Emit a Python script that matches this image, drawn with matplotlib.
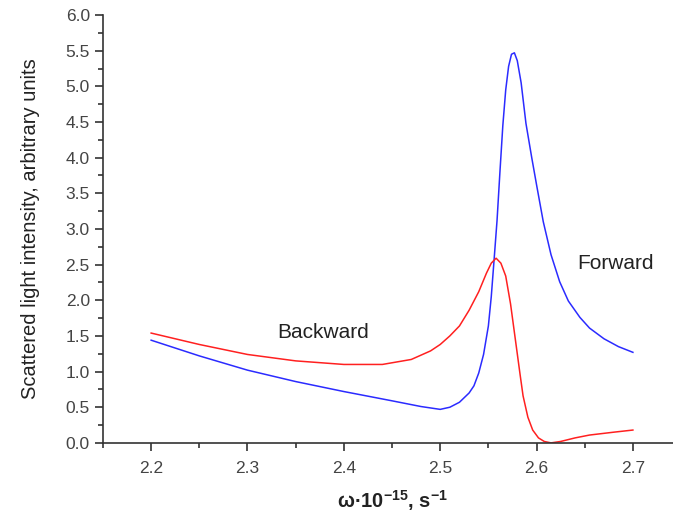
import matplotlib
matplotlib.use('Agg')
import matplotlib.pyplot as plt
from matplotlib.ticker import MultipleLocator, FormatStrFormatter

# Fonts
plt.rcParams['font.family'] = ['Liberation Sans', 'DejaVu Sans']
plt.rcParams['mathtext.fontset'] = 'custom'
plt.rcParams['mathtext.rm'] = 'Liberation Sans'
plt.rcParams['mathtext.bf'] = 'Liberation Sans:bold'
plt.rcParams['mathtext.default'] = 'bf'

# Forward scattering (blue)
fwd_w = [2.20, 2.25, 2.30, 2.35, 2.40, 2.45, 2.48, 2.50, 2.51, 2.52, 2.53,
         2.535, 2.54, 2.545, 2.55, 2.553, 2.556, 2.559, 2.562, 2.565, 2.568,
         2.571, 2.574, 2.577, 2.580, 2.584, 2.589, 2.595, 2.600, 2.607, 2.615,
         2.624, 2.633, 2.645, 2.655, 2.67, 2.685, 2.70]
fwd_i = [1.44, 1.22, 1.02, 0.86, 0.72, 0.59, 0.51, 0.47, 0.50, 0.57, 0.70,
         0.80, 0.98, 1.24, 1.64, 2.05, 2.58, 3.12, 3.80, 4.45, 4.95,
         5.28, 5.45, 5.47, 5.36, 5.05, 4.48, 4.00, 3.62, 3.10, 2.64,
         2.26, 1.99, 1.76, 1.61, 1.46, 1.35, 1.27]

# Backward scattering (red)
bwd_w = [2.20, 2.25, 2.30, 2.35, 2.40, 2.44, 2.47, 2.49, 2.50, 2.51, 2.52,
         2.53, 2.54, 2.548, 2.553, 2.558, 2.563, 2.568, 2.573, 2.579, 2.583,
         2.586, 2.591, 2.596, 2.602, 2.608, 2.615, 2.625, 2.64, 2.655, 2.68, 2.70]
bwd_i = [1.54, 1.38, 1.24, 1.15, 1.10, 1.10, 1.17, 1.29, 1.38, 1.50, 1.64,
         1.86, 2.12, 2.38, 2.52, 2.59, 2.52, 2.34, 1.95, 1.35, 0.95,
         0.66, 0.36, 0.18, 0.07, 0.02, 0.00, 0.02, 0.07, 0.11, 0.15, 0.18]

fig = plt.figure(figsize=(6.73, 5.18), dpi=100)
ax = fig.add_axes([0.153, 0.145, 0.859, 0.826])

ax.plot(fwd_w, fwd_i, color='#2b2bff', linewidth=1.1)
ax.plot(bwd_w, bwd_i, color='#ff2020', linewidth=1.1)

ax.set_xlim(2.15, 2.75)
ax.set_ylim(0, 6)

# Spines: only left and bottom
ax.spines['top'].set_visible(False)
ax.spines['right'].set_visible(False)
for s in ['left', 'bottom']:
    ax.spines[s].set_color('#333333')
    ax.spines[s].set_linewidth(1.2)

ax.xaxis.set_major_locator(MultipleLocator(0.1))
ax.xaxis.set_minor_locator(MultipleLocator(0.05))
ax.yaxis.set_major_locator(MultipleLocator(0.5))
ax.yaxis.set_minor_locator(MultipleLocator(0.25))
ax.xaxis.set_major_formatter(FormatStrFormatter('%.1f'))
ax.yaxis.set_major_formatter(FormatStrFormatter('%.1f'))
ax.tick_params(which='major', direction='out', length=6, width=1.2,
               color='#333333', labelsize=12.5, labelcolor='#444444')
ax.tick_params(which='minor', direction='out', length=3.5, width=1.2,
               color='#333333')
ax.tick_params(axis='x', pad=7)

# Labels
ax.set_ylabel('Scattered light intensity, arbitrary units', fontsize=14.5,
              color='#222222', labelpad=18)
ax.set_xlabel(r'ω·10$^{-15}$, s$^{-1}$', fontsize=14.5, fontweight='bold',
              color='#222222', labelpad=9)

# Curve annotations
ax.text(2.378, 1.55, 'Backward', fontsize=15, color='#222222',
        ha='center', va='center')
ax.text(2.682, 2.52, 'Forward', fontsize=15, color='#222222',
        ha='center', va='center')

fig.savefig('out.png', dpi=100)
